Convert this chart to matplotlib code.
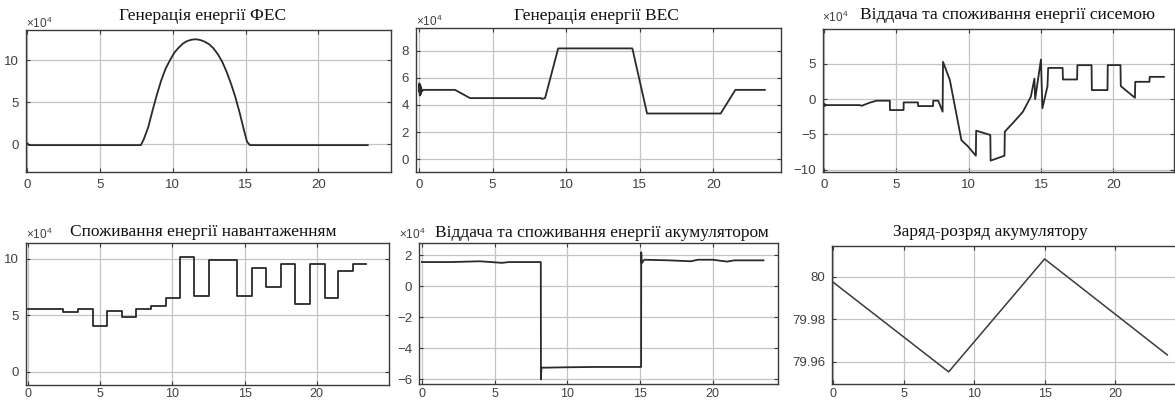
import matplotlib
matplotlib.use("Agg")
import matplotlib.pyplot as plt
from matplotlib import font_manager

# ---------------- data ----------------
# PV generation (x1e4)
pv_t = [0, 0.1, 7.8, 8.0, 8.3, 8.6, 8.9, 9.2, 9.5, 9.8, 10.1, 10.4, 10.7, 11.0, 11.3, 11.6, 11.9, 12.2,
        12.5, 12.8, 13.1, 13.4, 13.7, 14.0, 14.3, 14.6, 14.9, 15.1, 15.3, 23.4]
pv_p = [0.1, -0.1, -0.1, 0.6, 2.0, 4.0, 5.9, 7.6, 9.0, 10.0, 10.9, 11.5, 12.0, 12.3, 12.45, 12.5, 12.4,
        12.2, 11.9, 11.4, 10.7, 9.8, 8.6, 7.2, 5.6, 3.7, 1.6, 0.3, -0.1, -0.1]

# Wind generation (x1e4)
wind_t = [0, 0.03, 0.06, 0.09, 0.12, 0.15, 0.2, 0.3, 2.45, 3.47, 8.3, 8.35, 8.57, 9.46, 14.5, 15.5, 20.5, 21.5, 23.5]
wind_p = [5.0, 5.6, 4.7, 5.5, 4.8, 5.3, 5.0, 5.12, 5.12, 4.51, 4.51, 4.45, 4.51, 8.19, 8.19, 3.37, 3.37, 5.12, 5.12]

# Grid exchange (x1e4)
grid_t = [0, 0.05, 0.1, 0.15, 2.48, 2.6, 3.17, 3.63, 4.55, 4.56, 5.5, 5.51, 6.5, 6.51, 7.54, 7.55, 7.9, 8.2,
          8.23, 8.7, 9.5, 9.96, 10.5, 10.52, 11.5, 11.52, 12.48, 12.5, 13.05, 13.75, 14.3, 14.55, 14.6, 15.0,
          15.1, 15.45, 15.5, 16.5, 16.52, 17.5, 17.52, 18.5, 18.52, 19.6, 19.62, 20.5, 20.52, 21.5, 21.52,
          22.5, 22.52, 23.5]
grid_p = [-0.7, -1.0, -0.75, -0.85, -0.85, -0.95, -0.5, -0.23, -0.23, -1.55, -1.55, -0.47, -0.47, -0.99, -0.99,
          -0.23, -0.23, -1.78, 5.26, 2.7, -5.8, -6.7, -8.0, -4.46, -5.07, -8.69, -8.0, -4.6, -3.4, -1.8, 0.33,
          2.9, 0.0, 5.6, -1.3, 1.8, 4.4, 4.4, 2.77, 2.77, 4.79, 4.79, 1.27, 1.27, 4.8, 4.8, 1.83, 0.18, 2.44,
          2.44, 3.14, 3.14]

# Load consumption (x1e4), hourly steps
load_edges = [0, 2.45, 3.48, 4.47, 5.49, 6.48, 7.47, 8.49, 9.53, 10.5, 11.5, 12.5, 14.48, 15.48, 16.5, 17.5,
              18.5, 19.5, 20.55, 21.5, 22.5, 23.4]
load_vals = [5.56, 5.3, 5.56, 4.1, 5.35, 4.85, 5.56, 5.86, 6.54, 10.18, 6.74, 9.88, 6.74, 9.2, 7.5, 9.58,
             6.0, 9.58, 6.54, 8.9, 9.58]

# Battery power (x1e4)
bat_t = [0, 2.0, 4.0, 5.5, 6.0, 8.18, 8.19, 8.22, 10.0, 12.0, 15.08, 15.09, 15.12, 15.3, 17.0, 18.5, 19.0,
         20.0, 21.0, 21.5, 23.5]
bat_p = [1.57, 1.57, 1.62, 1.52, 1.57, 1.57, -6.0, -5.25, -5.22, -5.2, -5.2, 2.2, 1.5, 1.72, 1.68, 1.62,
         1.72, 1.72, 1.6, 1.68, 1.68]

# Battery state of charge
soc_t = [0, 8.2, 15.0, 23.7]
soc_v = [79.9976, 79.9553, 80.0085, 79.9633]

titles = ["Генерація енергії ФЕС", "Генерація енергії ВЕС", "Віддача та споживання енергії сисемою",
          "Споживання енергії навантаженням", "Віддача та споживання енергії акумулятором",
          "Заряд-розряд акумулятору"]
xticks = [0, 5, 10, 15, 20]

# ---------------- style ----------------
W, H = 1175, 403
fig = plt.figure(figsize=(W / 100, H / 100), dpi=100)
fig.patch.set_facecolor("white")

fams = [f.name for f in font_manager.fontManager.ttflist]
tick_font = "Liberation Sans Narrow" if "Liberation Sans Narrow" in fams else "Liberation Sans"
plt.rcParams["mathtext.default"] = "regular"

LINE = "#2a2a2a"
GRID = "#c4c4c4"
FRAME = "#3a3a3a"
TXT = "#404040"


def px_axes(x0, y0, x1, y1):
    return fig.add_axes([x0 / W, 1 - y1 / H, (x1 - x0) / W, (y1 - y0) / H])


def style(ax, xlim, ylim, yticks, ylabels=None, xpad=5, xsize=9.5):
    ax.set_xlim(*xlim)
    ax.set_ylim(*ylim)
    ax.set_xticks(xticks)
    ax.set_yticks(yticks)
    if ylabels is not None:
        ax.set_yticklabels(ylabels)
    ax.grid(True, color=GRID, linewidth=0.9)
    ax.set_axisbelow(True)
    for s in ax.spines.values():
        s.set_color(FRAME)
        s.set_linewidth(1.0)
    ax.tick_params(direction="in", length=3, width=0.8, colors=FRAME, top=True, right=True,
                   labelsize=9.5, labelcolor=TXT, pad=5)
    ax.tick_params(axis="x", pad=xpad, labelsize=xsize)
    for lab in ax.get_xticklabels() + ax.get_yticklabels():
        lab.set_fontfamily(tick_font)


def ftext(x, y, s, **kw):
    fig.text(x / W, 1 - y / H, s, **kw)


title_kw = dict(fontfamily="Liberation Serif", fontsize=12.5, color="#111111", ha="center", va="center")
exp_kw = dict(fontfamily=tick_font, fontsize=8.5, color=TXT, ha="left", va="center")
exp_txt = r"$\times10^{4}$"

# Panel 1
ax1 = px_axes(26, 30, 391, 172)
ax1.plot(pv_t, pv_p, color=LINE, lw=1.3)
style(ax1, (-0.1, 25), (-3.3, 13.6), [0, 5, 10])
ftext(203, 16, titles[0], **title_kw)
ftext(26, 23, exp_txt, **exp_kw)

# Panel 2
ax2 = px_axes(416, 28, 781, 172)
ax2.plot(wind_t, wind_p, color=LINE, lw=1.3)
style(ax2, (-0.2, 24.6), (-0.96, 9.7), [0, 2, 4, 6, 8])
ftext(596, 16, titles[1], **title_kw)
ftext(416, 21, exp_txt, **exp_kw)

# Panel 3
ax3 = px_axes(823, 29, 1174, 172)
ax3.plot(grid_t, grid_p, color=LINE, lw=1.3)
style(ax3, (-0.07, 24.2), (-10.3, 9.9), [-10, -5, 0, 5])
ftext(1008, 15, titles[2], **title_kw)
ftext(822, 17, exp_txt, **exp_kw)

# Panel 4
ax4 = px_axes(26, 243, 389, 385)
ax4.step(load_edges, load_vals + [load_vals[-1]], where="post", color=LINE, lw=1.3)
style(ax4, (-0.14, 25), (-1.15, 11.4), [0, 5, 10], xpad=2.5, xsize=9)
ftext(203, 232, titles[3], **title_kw)
ftext(26, 234, exp_txt, **exp_kw)

# Panel 5
ax5 = px_axes(419, 243, 778, 384)
ax5.plot(bat_t, bat_p, color=LINE, lw=1.3)
style(ax5, (-0.2, 24.5), (-6.3, 2.8), [-6, -4, -2, 0, 2], xpad=3, xsize=9)
ftext(602, 233, titles[4], **title_kw)
ftext(399, 234, exp_txt, **exp_kw)

# Panel 6
ax6 = px_axes(832, 246, 1180, 384)
ax6.plot(soc_t, soc_v, color="#3a3a3a", lw=1.1)
style(ax6, (-0.07, 24.6), (79.9496, 80.0146), [79.96, 79.98, 80.0], ["79.96", "79.98", "80"],
      xpad=3, xsize=9)
ftext(990, 232, titles[5], **title_kw)

fig.savefig("out.png", dpi=100, facecolor="white")
